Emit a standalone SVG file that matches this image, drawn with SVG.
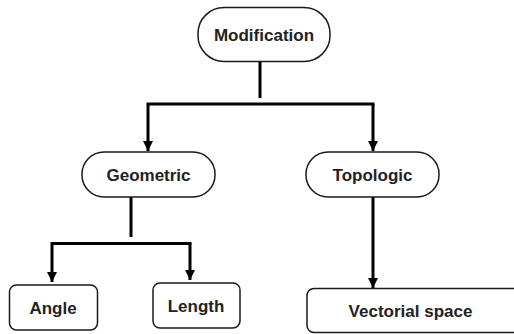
<svg xmlns="http://www.w3.org/2000/svg" width="514" height="334" viewBox="0 0 514 334">
  <style>
    .box { fill: #ffffff; stroke: #1a1a1a; stroke-width: 1.5; }
    .label { font-family: "Liberation Sans", Arial, sans-serif; font-weight: bold; font-size: 17px; fill: #222222; text-anchor: middle; }
    .wire { fill: none; stroke: #000000; stroke-width: 3; stroke-linejoin: miter; stroke-linecap: butt; }
  </style>
  <defs>
    <marker id="arrow" viewBox="0 0 10 10" refX="10" refY="5" markerWidth="10" markerHeight="10" markerUnits="userSpaceOnUse" orient="auto">
      <path d="M0,0 L10,5 L0,10 Z" fill="#000000"/>
    </marker>
  </defs>
  <rect width="514" height="334" fill="#ffffff"/>

  <!-- connectors -->
  <g id="connectors">
    <line class="wire" x1="260" y1="61" x2="260" y2="98"/>
    <path class="wire" d="M374.5,104 H148 V151" marker-end="url(#arrow)"/>
    <path class="wire" d="M373,104 V151" marker-end="url(#arrow)"/>
    <line class="wire" x1="131" y1="197" x2="131" y2="237"/>
    <path class="wire" d="M191.5,243.5 H52 V282" marker-end="url(#arrow)"/>
    <path class="wire" d="M190,243.5 V280" marker-end="url(#arrow)"/>
    <line class="wire" x1="373" y1="197" x2="373" y2="288" marker-end="url(#arrow)"/>
  </g>

  <!-- nodes -->
  <g id="modification">
    <rect class="box" x="198" y="7.5" width="132" height="54" rx="26" ry="26"/>
    <text class="label" x="264" y="41">Modification</text>
  </g>
  <g id="geometric">
    <rect class="box" x="82" y="152" width="133" height="45" rx="22" ry="22"/>
    <text class="label" x="148.5" y="180.5">Geometric</text>
  </g>
  <g id="topologic">
    <rect class="box" x="306" y="152" width="133" height="45" rx="22" ry="22"/>
    <text class="label" x="372.5" y="181">Topologic</text>
  </g>
  <g id="angle">
    <rect class="box" x="9.5" y="285" width="88" height="45" rx="7" ry="7"/>
    <text class="label" x="53" y="313.5">Angle</text>
  </g>
  <g id="length">
    <rect class="box" x="153" y="283" width="87" height="45" rx="7" ry="7"/>
    <text class="label" x="196" y="311.5">Length</text>
  </g>
  <g id="vectorial-space">
    <rect class="box" x="307" y="288.5" width="220" height="44" rx="7" ry="7"/>
    <text class="label" x="410.5" y="317">Vectorial space</text>
  </g>
</svg>
